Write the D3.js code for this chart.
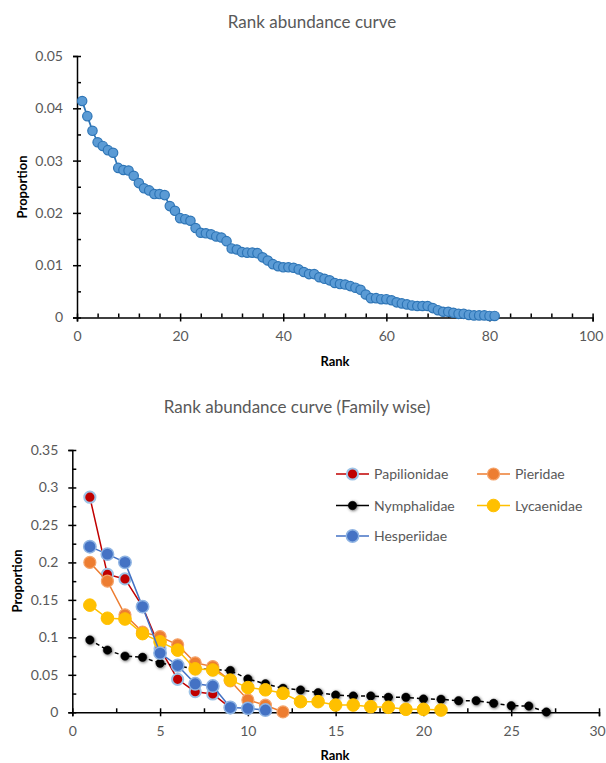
<!DOCTYPE html>
<html>
<head>
<meta charset="utf-8">
<script src="https://cdn.jsdelivr.net/npm/d3@7"></script>
<style>
  body { margin: 0; background: #fff; }
  text { font-family: Lato, "Open Sans", sans-serif; }
</style>
</head>
<body>
<div id="wrapper"></div>
<script>

// Data: overall rank abundance (proportion by rank 1..81)
const overallProportion = [
  0.0414, 0.0385, 0.0357, 0.0335, 0.0328, 0.0320, 0.0315, 0.0286, 0.0282, 0.0281,
  0.0271, 0.0257, 0.0247, 0.0243, 0.0236, 0.0236, 0.0234, 0.0213, 0.0204, 0.0190,
  0.0188, 0.0185, 0.0171, 0.0162, 0.0161, 0.0159, 0.0155, 0.0153, 0.0146, 0.0132,
  0.0130, 0.0125, 0.0124, 0.0124, 0.0123, 0.0115, 0.0109, 0.0102, 0.0098, 0.0096,
  0.0096, 0.0095, 0.0092, 0.0087, 0.0083, 0.0083, 0.0077, 0.0074, 0.0071, 0.0066,
  0.0064, 0.0063, 0.0060, 0.0057, 0.0053, 0.0044, 0.0037, 0.0037, 0.0035, 0.0035,
  0.0033, 0.0029, 0.0027, 0.0025, 0.0023, 0.0022, 0.0022, 0.0022, 0.0018, 0.0014,
  0.0011, 0.0011, 0.0009, 0.0007, 0.0007, 0.0005, 0.0004, 0.0004, 0.0004, 0.0003,
  0.0003
]

// Data: family wise rank abundance
const familyNames = ["Papilionidae", "Pieridae", "Nymphalidae", "Lycaenidae", "Hesperiidae"]
const papilionidae = [0.287, 0.184, 0.178, 0.141, 0.085, 0.044, 0.0275, 0.0244, 0.006]
const pieridae = [0.200, 0.175, 0.130, 0.107, 0.101, 0.090, 0.066, 0.061, 0.042, 0.0165, 0.0095, 0.0005]
const nymphalidae = [0.0965, 0.083, 0.075, 0.0734, 0.0655, 0.062, 0.058, 0.057, 0.0558, 0.0445,
  0.038, 0.032, 0.0298, 0.0262, 0.023, 0.0218, 0.0218, 0.020, 0.020, 0.0178,
  0.0174, 0.0155, 0.0155, 0.012, 0.0088, 0.0084, 0.0004]
const lycaenidae = [0.143, 0.1255, 0.1245, 0.105, 0.094, 0.083, 0.058, 0.0565, 0.043, 0.033,
  0.030, 0.0254, 0.0142, 0.0142, 0.0097, 0.0097, 0.0075, 0.0067, 0.004, 0.004, 0.003]
const hesperiidae = [0.221, 0.211, 0.200, 0.141, 0.079, 0.0625, 0.038, 0.035, 0.0065, 0.0053, 0.003]

// tick values
const topXTicks = [0, 20, 40, 60, 80, 100]
const topYTicks = [0, 0.01, 0.02, 0.03, 0.04, 0.05]
const bottomXTicks = [0, 5, 10, 15, 20, 25, 30]
const bottomYTicks = [0, 0.05, 0.1, 0.15, 0.2, 0.25, 0.3, 0.35]

const labelColor = "#595959"

const svg = d3.select("#wrapper")
  .append("svg")
    .attr("width", 606)
    .attr("height", 763)

// soft shadow used on the Nymphalidae markers
const defs = svg.append("defs")
const glow = defs.append("filter").attr("id", "glow")
    .attr("x", "-60%").attr("y", "-60%").attr("width", "220%").attr("height", "220%")
glow.append("feDropShadow")
    .attr("dx", 0.8).attr("dy", 0.8).attr("stdDeviation", 1.4)
    .attr("flood-color", "#000").attr("flood-opacity", 0.65)

// draws axes with crossing major ticks and inside minor ticks
function drawAxes(x, y, xTicks, yTicks, xMinor, yMinor, yFormat) {
  const g = svg.append("g")
  const [x0] = x.range()
  const [y0] = y.range()

  const xAxis = g.append("g")
      .attr("transform", `translate(0,${y0})`)
      .call(d3.axisBottom(x).tickValues(xTicks).tickSize(4).tickPadding(10).tickFormat(d3.format("d")))
  const yAxis = g.append("g")
      .attr("transform", `translate(${x0},0)`)
      .call(d3.axisLeft(y).tickValues(yTicks).tickSize(4).tickPadding(10).tickFormat(yFormat))

  // make major ticks cross the axis line
  xAxis.selectAll(".tick line").attr("y1", -4).attr("y2", 4)
  yAxis.selectAll(".tick line").attr("x1", -4).attr("x2", 4)
  // keep the last label inside the page
  xAxis.selectAll(".tick:last-of-type text").attr("dx", -2)

  // minor ticks, inside only
  g.append("g")
      .attr("transform", `translate(0,${y0})`)
      .call(d3.axisBottom(x).tickValues(xMinor).tickSize(-4).tickFormat(""))
      .call(a => a.select(".domain").remove())
  g.append("g")
      .attr("transform", `translate(${x0},0)`)
      .call(d3.axisLeft(y).tickValues(yMinor).tickSize(-4).tickFormat(""))
      .call(a => a.select(".domain").remove())

  g.selectAll(".domain, .tick line").attr("stroke", "#000").attr("stroke-width", 1.5)
  g.selectAll(".tick text")
      .attr("fill", labelColor)
      .style("font-size", "14px")
      .style("font-family", "Lato, sans-serif")
}

function yFmt(d) { return d === 0 ? "0" : String(d) }

// ---------- Top chart ----------
const xTop = d3.scaleLinear().domain([0, 100]).range([77, 592.6])
const yTop = d3.scaleLinear().domain([0, 0.05]).range([317.5, 56])

svg.append("text")
    .attr("x", 312).attr("y", 28)
    .attr("text-anchor", "middle")
    .attr("fill", labelColor)
    .style("font-size", "17px")
    .text("Rank abundance curve")

drawAxes(xTop, yTop, topXTicks, topYTicks,
  [4, 8, 12, 16, 24, 28, 32, 36, 44, 48, 52, 56, 64, 68, 72, 76, 84, 88, 92, 96],
  [0.005, 0.015, 0.025, 0.035, 0.045], yFmt)

svg.append("text")
    .attr("x", 335).attr("y", 366)
    .attr("text-anchor", "middle")
    .style("font-size", "13px").style("font-weight", "bold")
    .text("Rank")
svg.append("text")
    .attr("transform", "translate(27,187) rotate(-90)")
    .attr("text-anchor", "middle")
    .style("font-size", "13px").style("font-weight", "bold")
    .text("Proportion")

const topLine = d3.line()
    .x((d, i) => xTop(i + 1))
    .y(d => yTop(d))

svg.append("path")
    .datum(overallProportion)
    .attr("d", topLine)
    .attr("fill", "none")
    .attr("stroke", "#2E75B6")
    .attr("stroke-width", 1.75)

svg.append("g").selectAll("circle")
  .data(overallProportion)
  .join("circle")
    .attr("cx", (d, i) => xTop(i + 1))
    .attr("cy", d => yTop(d))
    .attr("r", 4.7)
    .attr("fill", "#5B9BD5")
    .attr("stroke", "#2E75B6")
    .attr("stroke-width", 1.2)

// ---------- Bottom chart ----------
const xBot = d3.scaleLinear().domain([0, 30]).range([72.3, 599])
const yBot = d3.scaleLinear().domain([0, 0.35]).range([712.3, 450])

svg.append("text")
    .attr("x", 297).attr("y", 413)
    .attr("text-anchor", "middle")
    .attr("fill", labelColor)
    .style("font-size", "17px")
    .text("Rank abundance curve (Family wise)")

drawAxes(xBot, yBot, bottomXTicks, bottomYTicks,
  [2.5, 7.5, 12.5, 17.5, 22.5, 27.5],
  [0.025, 0.075, 0.125, 0.175, 0.225, 0.275, 0.325], yFmt)

svg.append("text")
    .attr("x", 335).attr("y", 760)
    .attr("text-anchor", "middle")
    .style("font-size", "13px").style("font-weight", "bold")
    .text("Rank")
svg.append("text")
    .attr("transform", "translate(22,581) rotate(-90)")
    .attr("text-anchor", "middle")
    .style("font-size", "13px").style("font-weight", "bold")
    .text("Proportion")

const familySeries = [
  { values: papilionidae, line: "#C00000", fill: "#C00000", stroke: "#9DC3E6", r: 5.6, sw: 2, dash: null, shadow: false },
  { values: pieridae, line: "#ED7D31", fill: "#ED7D31", stroke: "#F4A36A", r: 6, sw: 1.2, dash: null, shadow: false },
  { values: nymphalidae, line: "#000", fill: "#000", stroke: "#000", r: 4.2, sw: 0.5, dash: "4,3", shadow: true },
  { values: lycaenidae, line: "#FFC000", fill: "#FFC000", stroke: "#FFC000", r: 6.3, sw: 1, dash: null, shadow: false },
  { values: hesperiidae, line: "#4472C4", fill: "#4472C4", stroke: "#8FB4E3", r: 6.2, sw: 1.5, dash: null, shadow: false }
]

const botLine = d3.line()
    .x((d, i) => xBot(i + 1))
    .y(d => yBot(d))

familySeries.forEach(s => {
  const g = svg.append("g")
  g.append("path")
      .datum(s.values)
      .attr("d", botLine)
      .attr("fill", "none")
      .attr("stroke", s.line)
      .attr("stroke-width", 1.5)
      .attr("stroke-dasharray", s.dash)
  g.selectAll("circle")
    .data(s.values)
    .join("circle")
      .attr("cx", (d, i) => xBot(i + 1))
      .attr("cy", d => yBot(d))
      .attr("r", s.r)
      .attr("fill", s.fill)
      .attr("stroke", s.stroke)
      .attr("stroke-width", s.sw)
      .attr("filter", s.shadow ? "url(#glow)" : null)
})

// legend
const legendPos = [[336, 474], [477, 474], [336, 505.5], [477, 505.5], [336, 536]]
const legend = svg.append("g")
familySeries.forEach((s, i) => {
  const [lx, ly] = legendPos[i]
  const item = legend.append("g").attr("transform", `translate(${lx},${ly})`)
  item.append("line")
      .attr("x1", 0).attr("x2", 33)
      .attr("stroke", s.line).attr("stroke-width", 1.5)
  item.append("circle")
      .attr("cx", 16.5).attr("r", s.r)
      .attr("fill", s.fill).attr("stroke", s.stroke).attr("stroke-width", s.sw)
      .attr("filter", s.shadow ? "url(#glow)" : null)
  item.append("text")
      .attr("x", 38).attr("y", 5)
      .attr("fill", labelColor)
      .style("font-size", "14px")
      .text(familyNames[i])
})

</script>
</body>
</html>
